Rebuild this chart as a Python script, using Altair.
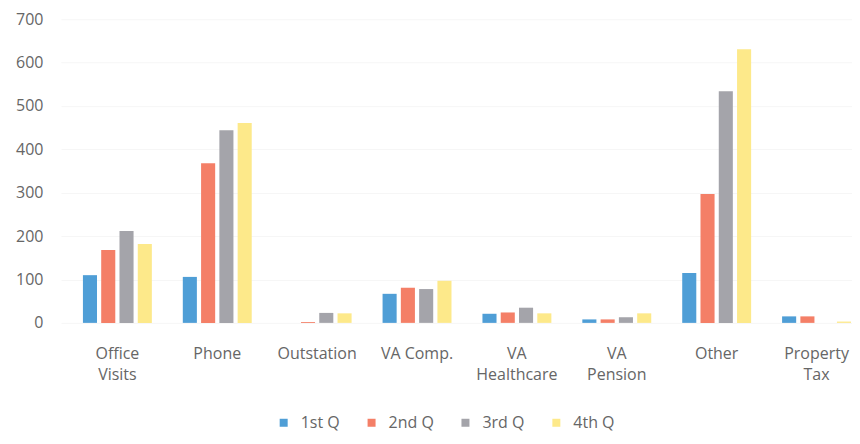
import altair as alt
import pandas as pd

categories = ["Office Visits", "Phone", "Outstation", "VA Comp.", "VA Healthcare",
              "VA Pension", "Other", "Property Tax"]
quarters = ["1st Q", "2nd Q", "3rd Q", "4th Q"]
q1 = [110, 106, 0, 67, 21, 8, 115, 15]
q2 = [168, 368, 2, 81, 24, 8, 297, 15]
q3 = [212, 444, 23, 78, 35, 13, 534, 0]
q4 = [182, 461, 22, 97, 22, 22, 631, 3]
colors = ["#4f9ed6", "#f47f67", "#a4a4aa", "#fde98a"]

rows = []
for q, vals in zip(quarters, [q1, q2, q3, q4]):
    for c, v in zip(categories, vals):
        rows.append({"Category": c, "Quarter": q, "Value": v})
df = pd.DataFrame(rows)

FONT = "Open Sans"
TXT = "#666666"

chart = alt.Chart(df).mark_bar().encode(
    x=alt.X("Category:N", sort=categories,
            scale=alt.Scale(paddingInner=0.31, paddingOuter=0.115, align=0.957),
            axis=alt.Axis(title=None, labelAngle=0, domain=False, ticks=False,
                          labelPadding=23, labelFontSize=16, labelColor=TXT,
                          labelFont=FONT, labelLineHeight=21,
                          labelExpr="datum.label == 'VA Comp.' ? datum.label : split(datum.label, ' ')")),
    xOffset=alt.XOffset("Quarter:N", sort=quarters,
                        scale=alt.Scale(paddingInner=0.23)),
    y=alt.Y("Value:Q", scale=alt.Scale(domain=[0, 700], nice=False),
            axis=alt.Axis(title=None, values=[0, 100, 200, 300, 400, 500, 600, 700],
                          domain=False, ticks=False, labelPadding=18,
                          labelFontSize=16, labelColor=TXT, labelFont=FONT,
                          gridColor="#f6f6f6")),
    color=alt.Color("Quarter:N", sort=quarters,
                    scale=alt.Scale(domain=quarters, range=colors),
                    legend=alt.Legend(title=None, orient="none", direction="horizontal",
                                      legendX=215, legendY=396,
                                      symbolType="square", symbolSize=64,
                                      symbolStrokeWidth=0,
                                      labelFontSize=16, labelColor=TXT, labelFont=FONT,
                                      columnPadding=23, labelOffset=9)),
).properties(
    width=792, height=304,
    autosize=alt.AutoSizeParams(type="none"),
    padding={"left": 53, "top": 11, "right": 0, "bottom": 113},
).configure_view(stroke=None)

chart.save("out.html", embed_options={"renderer": "svg", "actions": False})
